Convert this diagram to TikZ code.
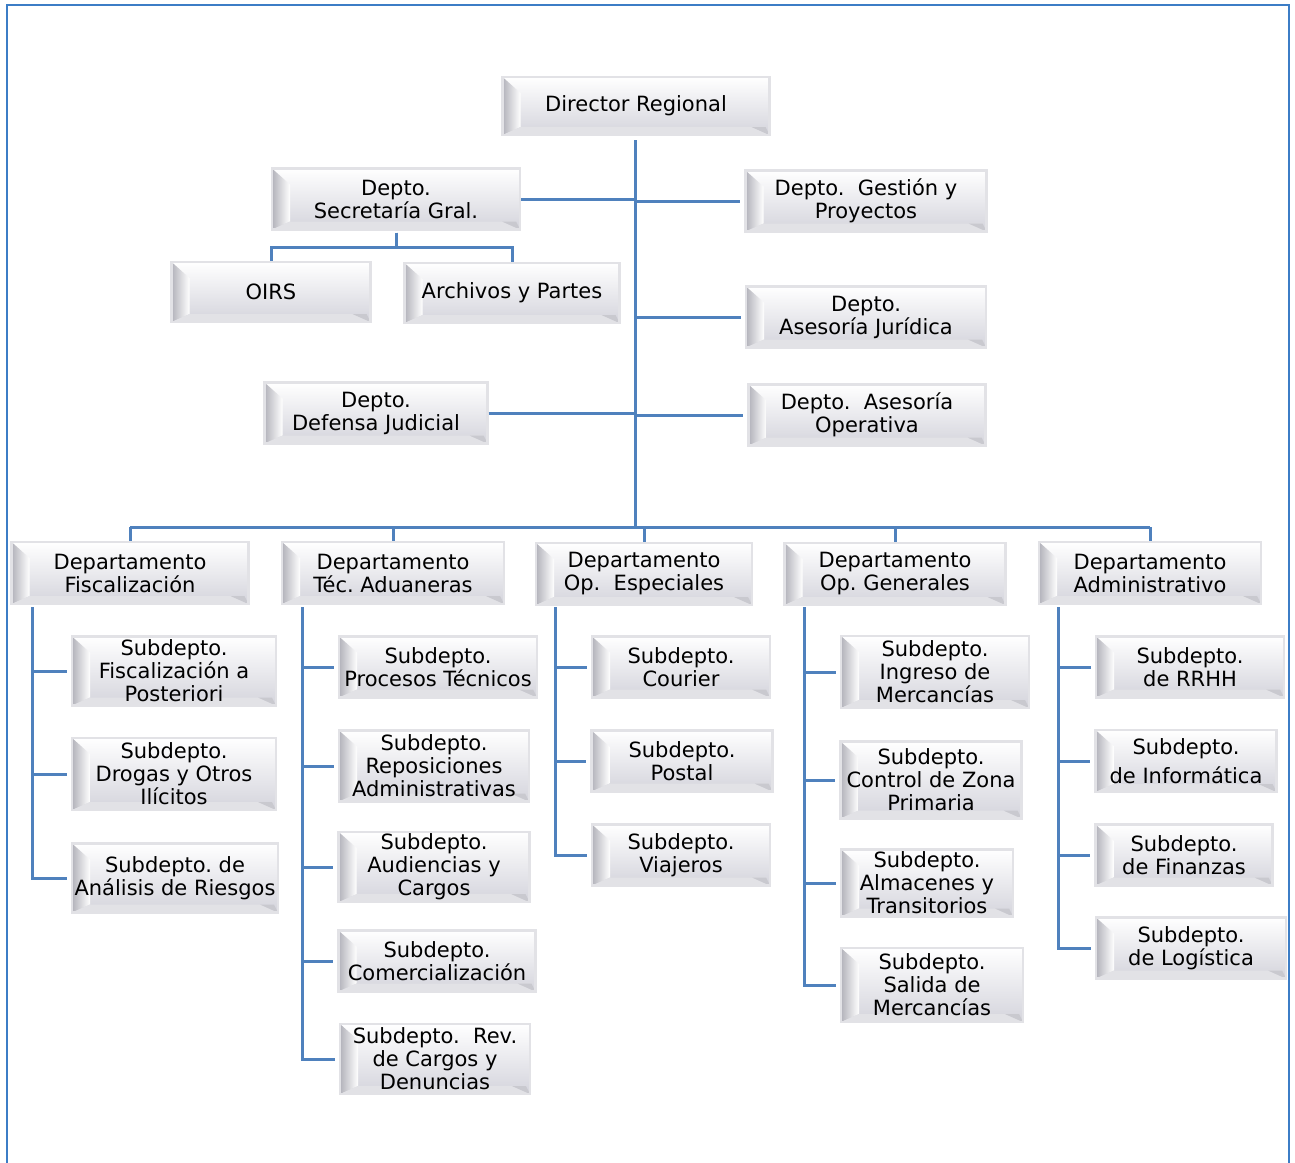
\documentclass[tikz,border=0pt]{standalone}
\usepackage{fontspec}
\setmainfont{DejaVu Sans}
\usepackage{tikz}
\frenchspacing
\definecolor{linkblue}{RGB}{79,129,189}
\definecolor{frameblue}{RGB}{60,125,198}
\definecolor{facegray}{RGB}{212,212,220}
\definecolor{sidegray}{RGB}{178,178,186}
\definecolor{rimgray}{RGB}{226,226,230}

\begin{document}
\begin{tikzpicture}[x = .5pt, y = -.5pt,
    unit/.style = {draw=rimgray, line width=1.2pt, align=center, inner sep=1pt,
      font=\fontsize{10.5}{11.5}\selectfont,
      path picture={
        \shade[top color=white, bottom color=facegray]
          (path picture bounding box.south west) rectangle (path picture bounding box.north east);
        \shade[left color=sidegray, right color=white]
          (path picture bounding box.north west) -- ([shift={(9pt,-8pt)}]path picture bounding box.north west)
          -- ([shift={(9pt,4pt)}]path picture bounding box.south west) -- (path picture bounding box.south west) -- cycle;
        \fill[rimgray]
          ([shift={(9pt,4pt)}]path picture bounding box.south west) -- ([shift={(-9pt,4pt)}]path picture bounding box.south east)
          -- (path picture bounding box.south east) -- (path picture bounding box.south west) -- cycle;
        \fill[sidegray!70]
          ([shift={(-9pt,4pt)}]path picture bounding box.south east) -- ([shift={(-2pt,4pt)}]path picture bounding box.south east)
          -- (path picture bounding box.south east) -- cycle;
      }},
    link/.style = {draw=linkblue, line width=1.5pt}]
  \useasboundingbox (0,0) rectangle (1295,1162);
  \draw[frameblue, line width=1.4pt] (7,1163) -- (7,5) -- (1289,5) -- (1289,1163);

  % top level
  \node[unit, minimum width=133.5pt, minimum height=29pt] (dir) at (636,106) {Director Regional};
  \node[unit, minimum width=124pt, minimum height=30.5pt] (sec) at (396,199) {Depto.\\Secretaría Gral.};
  \node[unit, minimum width=120.5pt, minimum height=30.5pt] (gest) at (866,201) {Depto.\ \ Gestión y\\Proyectos};
  \node[unit, minimum width=99.5pt, minimum height=30pt] (oirs) at (271,292) {OIRS};
  \node[unit, minimum width=107.5pt, minimum height=30pt] (arch) at (512,293) {Archivos y Partes};
  \node[unit, minimum width=120pt, minimum height=30.5pt] (jur) at (866,317) {Depto.\\Asesoría Jurídica};
  \node[unit, minimum width=111.5pt, minimum height=30.5pt] (def) at (376,413) {Depto.\\Defensa Judicial};
  \node[unit, minimum width=118.5pt, minimum height=30.5pt] (ope) at (867,415) {Depto.\ \ Asesoría\\Operativa};

  \coordinate (trunktop) at (635,140);
  \coordinate (trunkbot) at (635,527);
  \draw[link] (trunktop) -- (trunkbot);
  \draw[link] (sec.east) -- (sec.east -| trunktop);
  \draw[link] (def.east) -- (def.east -| trunktop);
  \foreach \n in {gest,jur,ope}
    \draw[link] (\n.west -| trunktop) -- ([xshift=-2pt]\n.west);
  \draw[link] ([yshift=-1pt]sec.south) -- ++(0,15) -| (oirs.north);
  \draw[link] ([yshift=-1pt]sec.south) -- ++(0,15) -| (arch.north);

  % departamentos
  \node[unit, minimum width=118.5pt, minimum height=31pt] (fis) at (130,573) {Departamento\\Fiscalización};
  \node[unit, minimum width=111pt, minimum height=31pt] (tec) at (393,573) {Departamento\\Téc. Aduaneras};
  \node[unit, minimum width=108pt, minimum height=31pt] (esp) at (644,574) {Departamento\\Op.\ \ Especiales};
  \node[unit, minimum width=110.5pt, minimum height=31pt] (gen) at (895,574) {Departamento\\Op. Generales};
  \node[unit, minimum width=111pt, minimum height=31pt] (adm) at (1150,573) {Departamento\\Administrativo};

  \draw[link] (fis.north |- trunkbot) -- (adm.north |- trunkbot);
  \foreach \n in {fis,tec,esp,gen,adm}
    \draw[link] (\n.north |- trunkbot) -- (\n.north);

  % subdeptos
  \node[unit, minimum width=102pt, minimum height=34.5pt] (fis1) at (174,671) {Subdepto.\\Fiscalización a\\Posteriori};
  \node[unit, minimum width=102pt, minimum height=36pt] (fis2) at (174,774) {Subdepto.\\Drogas y Otros\\Ilícitos};
  \node[unit, minimum width=103pt, minimum height=34.5pt] (fis3) at (175,878) {Subdepto. de\\Análisis de Riesgos};

  \node[unit, minimum width=99pt, minimum height=30.5pt] (tec1) at (438,667) {Subdepto.\\Procesos Técnicos};
  \node[unit, minimum width=95pt, minimum height=35.5pt] (tec2) at (434,766) {Subdepto.\\Reposiciones\\Administrativas};
  \node[unit, minimum width=95.5pt, minimum height=33.5pt] (tec3) at (434,867) {Subdepto.\\Audiencias y\\Cargos};
  \node[unit, minimum width=98.5pt, minimum height=30.5pt] (tec4) at (437,961) {Subdepto.\\Comercialización};
  \node[unit, minimum width=95pt, minimum height=35pt] (tec5) at (435,1059) {Subdepto.\ \ Rev.\\de Cargos y\\Denuncias};

  \node[unit, minimum width=89pt, minimum height=30.5pt] (esp1) at (681,667) {Subdepto.\\Courier};
  \node[unit, minimum width=90.5pt, minimum height=30.5pt] (esp2) at (682,761) {Subdepto.\\Postal};
  \node[unit, minimum width=89pt, minimum height=30.5pt] (esp3) at (681,855) {Subdepto.\\Viajeros};

  \node[unit, minimum width=94pt, minimum height=36pt] (gen1) at (935,672) {Subdepto.\\Ingreso de\\Mercancías};
  \node[unit, minimum width=90.5pt, minimum height=38.5pt] (gen2) at (931,780) {Subdepto.\\Control de Zona\\Primaria};
  \node[unit, minimum width=86pt, minimum height=33.5pt] (gen3) at (927,883) {Subdepto.\\Almacenes y\\Transitorios};
  \node[unit, minimum width=91pt, minimum height=37pt] (gen4) at (932,985) {Subdepto.\\Salida de\\Mercancías};

  \node[unit, minimum width=94pt, minimum height=30.5pt] (adm1) at (1190,667) {Subdepto.\\de RRHH};
  \node[unit, minimum width=90.5pt, minimum height=31pt] (adm2) at (1186,761) {Subdepto.\\[3pt]de Informática};
  \node[unit, minimum width=88.5pt, minimum height=30.5pt] (adm3) at (1184,855) {Subdepto.\\de Finanzas};
  \node[unit, minimum width=95pt, minimum height=30.5pt] (adm4) at (1191,948) {Subdepto.\\de Logística};

  % rails
  \coordinate (fisrail) at (32,607);
  \coordinate (tecrail) at (302,607);
  \coordinate (esprail) at (555,607);
  \coordinate (genrail) at (804,607);
  \coordinate (admrail) at (1058,607);
  \foreach \n in {fis1,fis2,fis3}
    \draw[link] (fisrail) |- ([xshift=-2pt]\n.west);
  \foreach \n in {tec1,tec2,tec3,tec4,tec5}
    \draw[link] (tecrail) |- ([xshift=-2pt]\n.west);
  \foreach \n in {esp1,esp2,esp3}
    \draw[link] (esprail) |- ([xshift=-2pt]\n.west);
  \foreach \n in {gen1,gen2,gen3,gen4}
    \draw[link] (genrail) |- ([xshift=-2pt]\n.west);
  \foreach \n in {adm1,adm2,adm3,adm4}
    \draw[link] (admrail) |- ([xshift=-2pt]\n.west);
\end{tikzpicture}
\end{document}
